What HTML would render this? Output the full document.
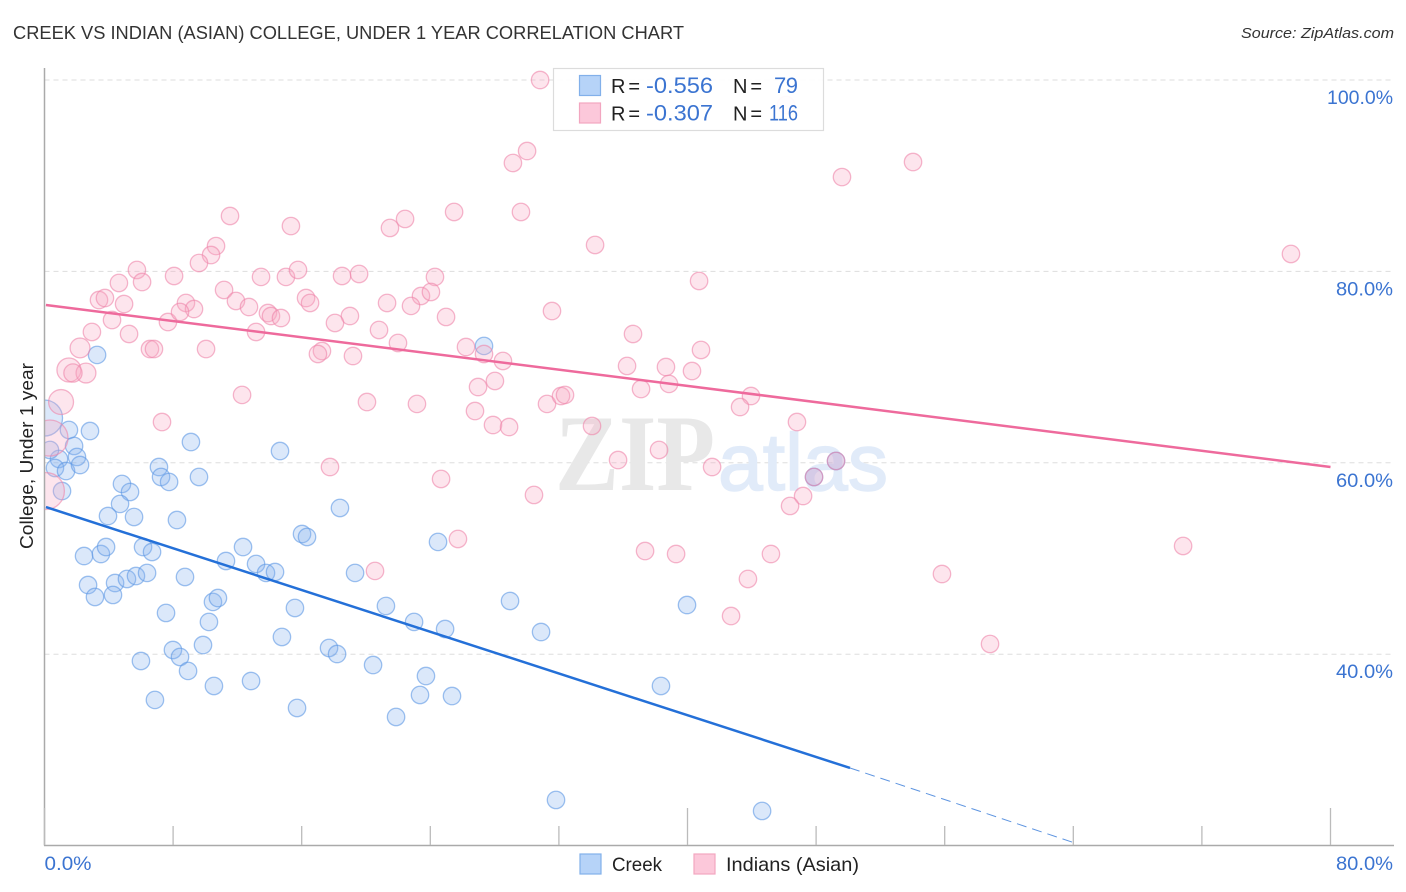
<!DOCTYPE html>
<html lang="en">
<head>
<meta charset="utf-8">
<title>Creek vs Indian (Asian) College, Under 1 Year Correlation Chart</title>
<style>
html,body{margin:0;padding:0;background:#fff;}
svg{display:block;font-family:"Liberation Sans",sans-serif;}
</style>
</head>
<body>
<svg id="chart" xmlns="http://www.w3.org/2000/svg" width="1406" height="892" viewBox="0 0 1406 892">
  <defs>
    <clipPath id="plot-clip"><rect x="44.5" y="60" width="1362" height="785"></rect></clipPath>
  </defs>
  <rect x="0" y="0" width="1406" height="892" fill="#ffffff"></rect>
  <text x="13" y="39" font-size="18.5" fill="#333333" textLength="671" lengthAdjust="spacingAndGlyphs">CREEK VS INDIAN (ASIAN) COLLEGE, UNDER 1 YEAR CORRELATION CHART</text>
  <text x="1241" y="38" font-size="15" font-style="italic" fill="#333333" textLength="153" lengthAdjust="spacingAndGlyphs">Source: ZipAtlas.com</text>
  <g id="grid"></g>
  <g>
    <text x="555" y="490" font-family="'Liberation Serif',serif" font-weight="bold" font-size="109" fill="#e8e8e8" textLength="160" lengthAdjust="spacingAndGlyphs">ZIP</text>
    <text x="718" y="490" font-family="'Liberation Sans',sans-serif" font-size="81" fill="#e1ebf9" stroke="#e1ebf9" stroke-width="1.5" textLength="170" lengthAdjust="spacingAndGlyphs">atlas</text>
  </g>
  <g id="points" clip-path="url(#plot-clip)"></g>
  <g id="trends"></g>
  <g id="axes"></g>
  <text transform="translate(33,456) rotate(-90)" font-size="18" fill="#222222" text-anchor="middle" textLength="186" lengthAdjust="spacingAndGlyphs">College, Under 1 year</text>

  <g>
    <rect x="553.5" y="68.5" width="270" height="62" fill="#ffffff" fill-opacity="0.93" stroke="#dcdcdc" stroke-width="1.2"></rect>
    <rect x="579.5" y="75.5" width="21" height="20" fill="#b6d3f8" stroke="#82b0ea" stroke-width="1.2"></rect>
    <rect x="579.5" y="103" width="21" height="20" fill="#fcc8da" stroke="#f2a6c0" stroke-width="1.2"></rect>
    <text x="611" y="93" font-size="20" fill="#222222" textLength="29">R =</text>
    <text x="646" y="93" font-size="22" fill="#3b74d1" textLength="67" lengthAdjust="spacingAndGlyphs">-0.556</text>
    <text x="733" y="93" font-size="20" fill="#222222" textLength="29">N =</text>
    <text x="774" y="93" font-size="22" fill="#3b74d1" textLength="24">79</text>
    <text x="611" y="120.500" font-size="20" fill="#222222" textLength="29">R =</text>
    <text x="646" y="120.500" font-size="22" fill="#3b74d1" textLength="67" lengthAdjust="spacingAndGlyphs">-0.307</text>
    <text x="733" y="120.500" font-size="20" fill="#222222" textLength="29">N =</text>
    <text x="769" y="120.500" font-size="22" fill="#3b74d1" textLength="29" lengthAdjust="spacingAndGlyphs">116</text>
  </g>

  <g>
    <rect x="580" y="854" width="21" height="20" fill="#b6d3f8" stroke="#82b0ea" stroke-width="1.2"></rect>
    <text x="612" y="871" font-size="19.500" fill="#222222" textLength="50" lengthAdjust="spacingAndGlyphs">Creek</text>
    <rect x="694" y="854" width="21" height="20" fill="#fcc8da" stroke="#f2a6c0" stroke-width="1.2"></rect>
    <text x="726" y="871" font-size="19.500" fill="#222222" textLength="133" lengthAdjust="spacingAndGlyphs">Indians (Asian)</text>
  </g>
</svg>
<script>
var creekXValues = [0.0,3.27,27.34,1.52,2.83,1.84,0.90,2.02,0.65,1.34,2.21,0.34,1.09,9.11,14.65,7.12,7.25,7.75,9.61,4.82,5.32,4.70,5.57,3.95,8.24,18.38,16.02,16.33,12.35,24.48,2.46,3.51,3.83,6.13,6.69,11.29,13.16,13.78,14.34,19.32,2.71,4.39,5.13,5.69,6.38,8.74,3.14,4.26,7.56,10.48,10.79,10.23,15.58,21.24,22.99,24.92,28.96,30.89,39.97,9.86,7.99,8.43,6.00,8.93,14.77,17.70,18.20,20.44,23.73,10.54,12.85,6.87,15.71,23.36,25.35,21.87,38.35,31.82,44.64,49.24,47.87];
var creekYValues = [64.68,71.27,72.21,63.43,63.32,61.76,60.40,60.61,59.46,59.14,59.77,61.34,57.05,62.17,61.23,59.56,58.52,58.00,58.52,57.79,56.95,55.70,54.34,54.44,54.02,55.28,52.56,52.25,51.20,51.73,50.26,50.47,51.20,51.20,50.68,49.74,49.43,48.49,48.59,48.49,47.23,47.44,47.86,48.17,48.49,48.07,45.98,46.19,44.31,45.46,45.87,43.37,44.83,45.04,43.37,42.63,45.56,42.32,45.14,40.96,40.44,39.71,39.29,38.25,41.80,40.65,40.02,38.87,37.72,36.68,37.20,35.22,34.38,35.74,35.63,33.44,36.68,24.77,23.62,60.19,58.52];
var creekWeights = [4.3];

var indiansXValues = [0.34,0.09,1.03,1.52,2.21,2.58,1.77,30.83,30.02,29.14,54.03,49.61,25.48,29.64,11.54,22.43,21.49,15.33,34.25,10.67,10.36,9.61,77.54,5.75,8.06,13.47,15.02,15.77,18.51,19.57,24.29,4.63,6.07,40.72,11.17,16.27,16.52,21.31,23.42,24.04,3.39,3.76,4.95,8.80,11.91,9.30,12.72,13.90,14.09,14.71,24.98,31.57,22.80,7.68,8.43,4.20,19.00,18.07,20.81,2.95,5.26,36.61,13.16,21.99,26.22,17.26,17.01,6.56,6.81,10.05,40.84,19.19,27.34,28.52,36.24,38.66,40.28,38.85,37.11,26.97,28.02,12.29,20.06,23.17,31.26,32.13,32.38,43.95,43.27,26.78,7.31,27.90,28.90,46.81,34.06,38.23,35.68,17.76,41.53,49.24,24.67,47.87,30.45,47.19,46.38,25.72,37.36,39.29,45.19,70.83,20.56,55.83,43.76,42.71,58.82,46.13];
var indiansYValues = [62.59,57.05,66.35,69.70,72.00,69.38,69.38,100.00,92.58,91.33,91.43,89.86,86.21,86.21,85.79,85.48,84.54,84.74,82.76,82.65,81.71,80.88,81.82,80.15,79.52,79.42,79.42,80.15,79.52,79.73,79.42,78.79,78.89,79.00,78.06,77.22,76.70,76.70,77.43,77.85,77.01,77.22,76.59,76.70,76.91,76.07,76.28,75.65,75.34,75.13,75.24,75.86,76.39,74.71,75.76,74.92,75.34,74.61,73.88,73.67,73.46,73.46,73.67,72.52,72.10,71.68,71.37,71.89,71.89,71.89,71.79,71.16,71.37,70.64,70.12,70.01,69.59,68.24,67.71,67.92,68.55,67.09,66.35,66.15,66.15,66.98,67.09,66.98,65.83,65.41,64.26,63.95,63.74,64.26,63.85,61.34,60.29,59.56,59.56,60.19,58.31,58.52,56.64,56.53,55.49,52.04,50.78,50.47,50.47,51.31,48.70,48.38,47.86,43.99,41.07,97.39];
var indiansWeights = [4.3,4.5,2.05,1.9,1.3,1.3,1.1];

var creekTrendX = [0.09,50.11];
var creekTrendY = [55.38,28.11];
var creekProjectionX = [50.11,64.1];
var creekProjectionY = [28.11,20.27];
var indiansTrendX = [0.09,80];
var indiansTrendY = [76.49,59.56];

var yGridValues = [100,80,60,40];
var yTickLabels = ["100.0%","80.0%","60.0%","40.0%"];
var xTickValues = [0,8,16,24,32,40,48,56,64,72,80];
var xMajorTicks = [0,40,80];
var xEndValues = [0,80];
var xEndLabels = ["0.0%","80.0%"];

var SVG_NS = "http://www.w3.org/2000/svg";
function xScale(v){ return 44.5 + v * 16.075; }
function yScale(v){ return 80 + (100 - v) * 9.57; }
function radiusOf(weight){ return 8.7 * Math.sqrt(weight); }
function labelWidth(text){ return text.length * 11.4 - (text.length > 5 ? 2.4 : 0); }
function make(tag, attrs, parent){
  var el = document.createElementNS(SVG_NS, tag);
  for (var k in attrs) el.setAttribute(k, attrs[k]);
  parent.appendChild(el);
  return el;
}

var gridGroup = document.getElementById("grid");
yGridValues.forEach(function(v){
  var line = make("line", {x1:44.5, x2:1394, y1:yScale(v), y2:yScale(v), stroke:"#dddddd", "stroke-width":1, "stroke-dasharray":"5 4"}, gridGroup);
  
  
});

function drawSeries(xs, ys, weights, fill, stroke, parent){
  xs.forEach(function(x, i){
    var w = i < weights.length ? weights[i] : 1;
    var c = make("circle", {cx:xScale(x), cy:yScale(ys[i]), r:radiusOf(w), fill:fill, "fill-opacity":0.3, stroke:stroke, "stroke-opacity":0.6, "stroke-width":1.3}, parent);
    
    
  });
}
var pointsGroup = document.getElementById("points");
drawSeries(creekXValues, creekYValues, creekWeights, "#88b4ee", "#5e98e4", pointsGroup);
drawSeries(indiansXValues, indiansYValues, indiansWeights, "#f9a8c4", "#ee86aa", pointsGroup);

var trendsGroup = document.getElementById("trends");
var pinkLine = make("line", {x1:xScale(indiansTrendX[0]), y1:yScale(indiansTrendY[0]), x2:xScale(indiansTrendX[1]), y2:yScale(indiansTrendY[1]), stroke:"#ee6a9c", "stroke-width":2.5}, trendsGroup);


var blueLine = make("line", {x1:xScale(creekTrendX[0]), y1:yScale(creekTrendY[0]), x2:xScale(creekTrendX[1]), y2:yScale(creekTrendY[1]), stroke:"#2470d8", "stroke-width":2.5}, trendsGroup);


var blueDash = make("line", {x1:xScale(creekProjectionX[0]), y1:yScale(creekProjectionY[0]), x2:xScale(creekProjectionX[1]), y2:yScale(creekProjectionY[1]), stroke:"#5d94e0", "stroke-width":1, "stroke-dasharray":"10 6"}, trendsGroup);



var axesGroup = document.getElementById("axes");
var yAxis = make("line", {x1:44.5, x2:44.5, y1:68, y2:845.5, stroke:"#aaaaaa", "stroke-width":1.5}, axesGroup);


var xAxis = make("line", {x1:44, x2:1394, y1:845.5, y2:845.5, stroke:"#aaaaaa", "stroke-width":1.5}, axesGroup);



xTickValues.forEach(function(v){
  var major = xMajorTicks.indexOf(v) >= 0;
  var tick = make("line", {x1:xScale(v), x2:xScale(v), y1:major ? 808 : 826, y2:845, stroke:"#bbbbbb", "stroke-width":1.3}, axesGroup);
  
  
});

yGridValues.forEach(function(v, i){
  var w = labelWidth(yTickLabels[i]);
  var label = make("text", {x:1393 - w, y:yScale(v) + 24, "font-size":19.5, fill:"#3b74d1", textLength:w, lengthAdjust:"spacingAndGlyphs"}, axesGroup);
  
  
  label.textContent = yTickLabels[i];
});

xEndValues.forEach(function(v, i){
  var w = i === 0 ? 47 : 57;
  var label = make("text", {x: i === 0 ? xScale(v) : 1393 - w, y:870, "font-size":19.5, fill:"#3b74d1", textLength:w, lengthAdjust:"spacingAndGlyphs"}, axesGroup);
  
  
  label.textContent = xEndLabels[i];
});
</script>
</body>
</html>
